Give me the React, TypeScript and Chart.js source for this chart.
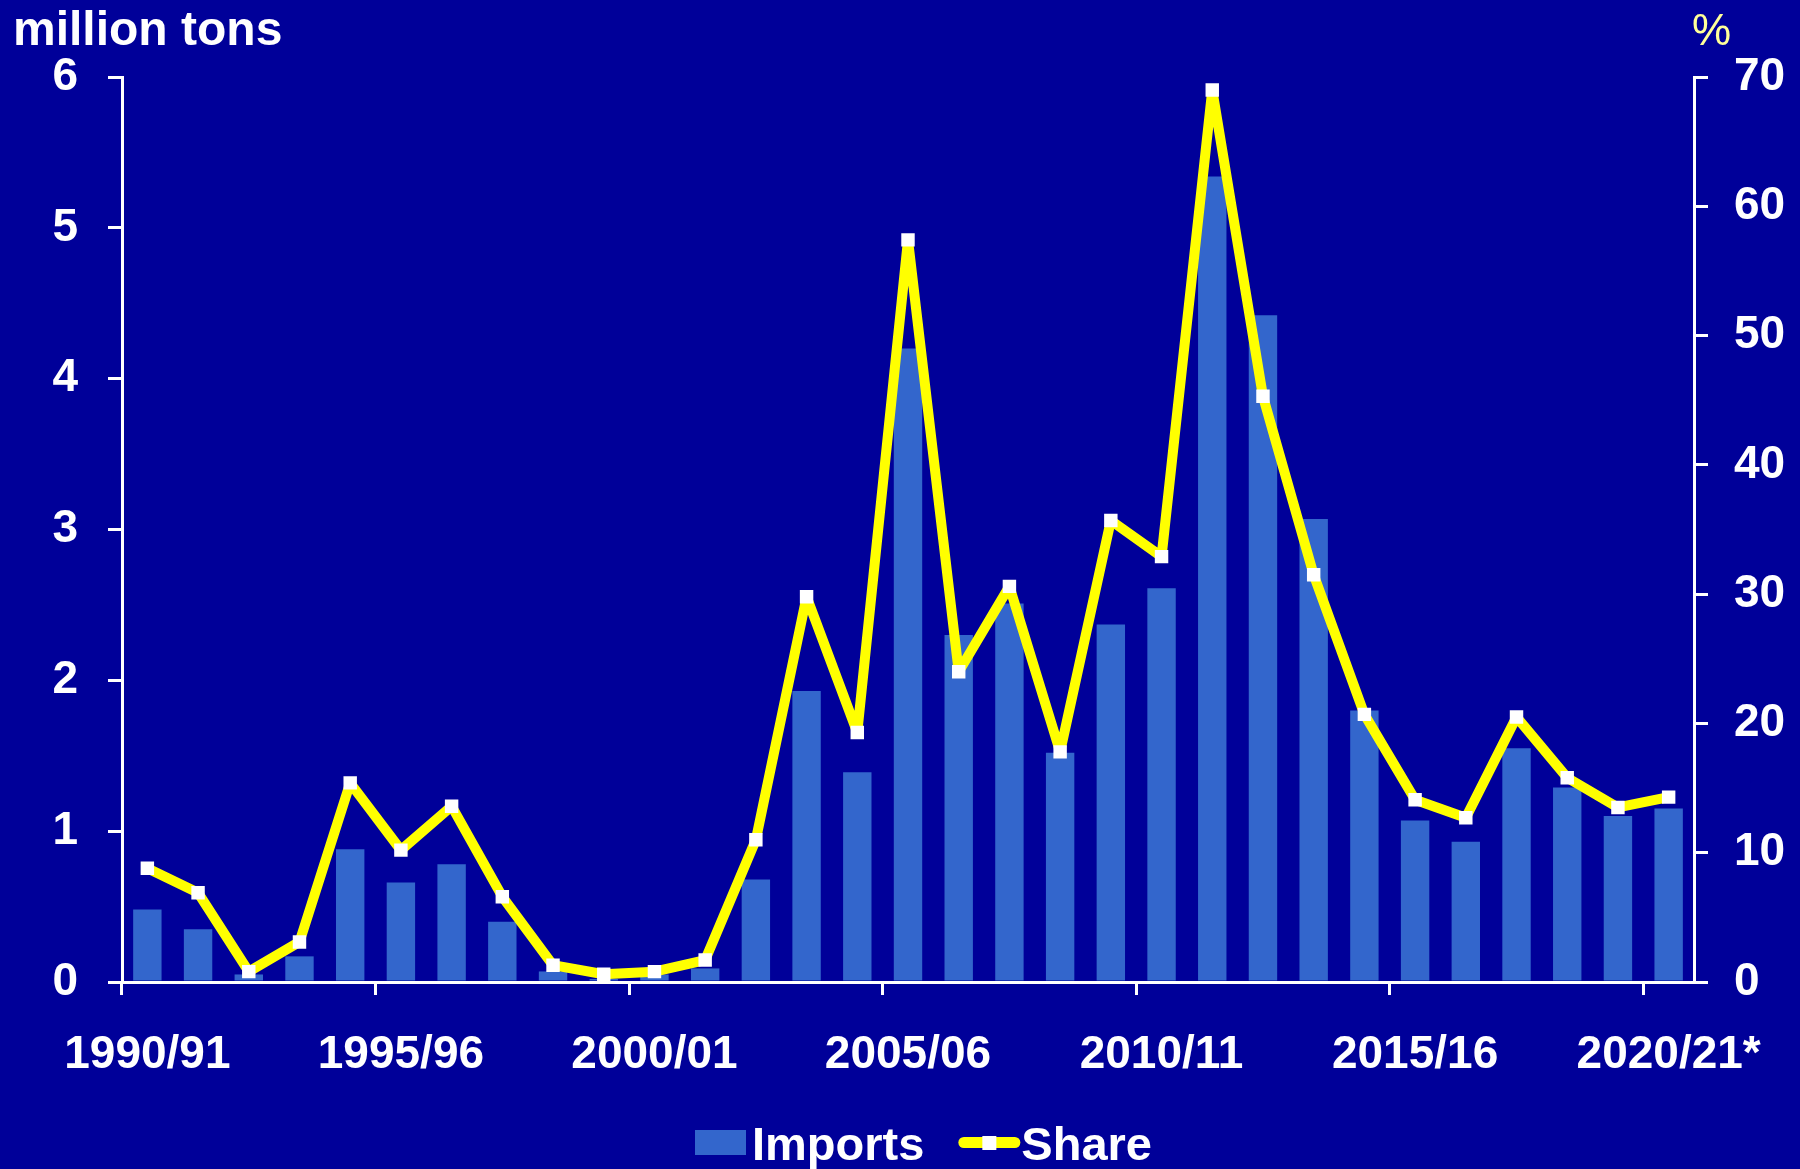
import { useEffect, useRef } from "react";
import { Chart, registerables } from "chart.js";

Chart.register(...registerables);

const categories = [
  "1990/91", "1991/92", "1992/93", "1993/94", "1994/95",
  "1995/96", "1996/97", "1997/98", "1998/99", "1999/00",
  "2000/01", "2001/02", "2002/03", "2003/04", "2004/05",
  "2005/06", "2006/07", "2007/08", "2008/09", "2009/10",
  "2010/11", "2011/12", "2012/13", "2013/14", "2014/15",
  "2015/16", "2016/17", "2017/18", "2018/19", "2019/20",
  "2020/21*",
];

const tickLabels = ["1990/91", "1995/96", "2000/01", "2005/06", "2010/11", "2015/16", "2020/21*"];

// Imports, million tons (left axis)
const imports = [
  0.48, 0.35, 0.05, 0.17, 0.88,
  0.66, 0.78, 0.40, 0.07, 0.02,
  0.05, 0.09, 0.68, 1.93, 1.39,
  4.20, 2.30, 2.51, 1.52, 2.37,
  2.61, 5.34, 4.42, 3.07, 1.80,
  1.07, 0.93, 1.55, 1.29, 1.10,
  1.15,
];

// Share, % (right axis)
const share = [
  8.8, 6.9, 0.8, 3.1, 15.4,
  10.2, 13.6, 6.6, 1.3, 0.6,
  0.8, 1.7, 11.0, 29.8, 19.3,
  57.4, 24.0, 30.6, 17.8, 35.7,
  32.9, 69.0, 45.3, 31.5, 20.7,
  14.1, 12.7, 20.5, 15.8, 13.5,
  14.3,
];

const leftRange = [0, 6];
const rightRange = [0, 70];

const FONT = '"Liberation Sans", Arial, Helvetica, sans-serif';
const BG = "#000099";
const BAR = "#3366CC";
const LINE = "#FFFF00";
const WHITE = "#FFFFFF";

const overlayPlugin = {
  id: "overlay",
  afterDraw(chart: any) {
    const ctx = chart.ctx as CanvasRenderingContext2D;
    ctx.save();
    ctx.textBaseline = "alphabetic";
    ctx.textAlign = "left";

    // axis titles
    ctx.fillStyle = WHITE;
    ctx.font = `bold 48px ${FONT}`;
    ctx.fillText("million tons", 13, 45);
    ctx.fillStyle = "#FFFF99";
    ctx.font = `normal 44px ${FONT}`;
    ctx.fillText("%", 1692, 45);

    // legend
    const bars = chart.data.datasets[1];
    const line = chart.data.datasets[0];
    let x = 695;
    ctx.fillStyle = bars.backgroundColor;
    ctx.fillRect(x, 1130, 51, 25);
    x += 51 + 6;
    ctx.fillStyle = WHITE;
    ctx.font = `bold 47px ${FONT}`;
    ctx.fillText(bars.label, x, 1160);
    x += ctx.measureText(bars.label).width + 34;

    ctx.strokeStyle = line.borderColor;
    ctx.lineWidth = 11;
    ctx.lineCap = "round";
    ctx.beginPath();
    ctx.moveTo(x + 5.5, 1142.5);
    ctx.lineTo(x + 56.5, 1142.5);
    ctx.stroke();
    ctx.fillStyle = line.pointBackgroundColor;
    ctx.fillRect(x + 24, 1136, 14, 14);
    x += 63;
    ctx.fillStyle = WHITE;
    ctx.fillText(line.label, x, 1160);
    ctx.restore();
  },
};

export default function App() {
  const ref = useRef<HTMLCanvasElement>(null);

  useEffect(() => {
    document.body.style.margin = "0";
    const canvas = ref.current;
    if (!canvas) return;
    const chart = new Chart(canvas, {
      type: "bar",
      data: {
        labels: categories,
        datasets: [
          {
            type: "line",
            label: "Share",
            data: share,
            yAxisID: "y1",
            borderColor: LINE,
            backgroundColor: LINE,
            borderWidth: 10,
            borderJoinStyle: "bevel",
            tension: 0,
            pointStyle: "rect",
            pointRadius: 9.5,
            pointHoverRadius: 9.5,
            pointBackgroundColor: WHITE,
            pointBorderColor: WHITE,
            pointBorderWidth: 0,
            order: 0,
          } as any,
          {
            type: "bar",
            label: "Imports",
            data: imports,
            yAxisID: "y",
            backgroundColor: BAR,
            borderWidth: 0,
            barPercentage: 0.56,
            categoryPercentage: 1,
            order: 1,
          } as any,
        ],
      },
      options: {
        responsive: false,
        animation: false,
        layout: { padding: { top: 77, left: 0, right: 0, bottom: 0 } },
        plugins: {
          legend: { display: false },
          tooltip: { enabled: false },
          title: { display: false },
        },
        scales: {
          x: {
            type: "category",
            offset: true,
            grid: {
              offset: true,
              drawOnChartArea: false,
              drawTicks: true,
              tickLength: 13,
              lineWidth: 3,
              color: (c: any) => (c.index % 5 === 0 ? WHITE : "rgba(0,0,0,0)"),
            },
            border: { display: true, color: WHITE, width: 3 },
            ticks: {
              autoSkip: false,
              maxRotation: 0,
              minRotation: 0,
              padding: 33,
              color: WHITE,
              font: { family: FONT, size: 46, weight: "bold" },
              callback: (_v: any, i: number) =>
                tickLabels.includes(categories[i]) ? categories[i] : "",
            },
            afterFit: (s: any) => {
              s.height = 187;
            },
          },
          y: {
            position: "left",
            min: leftRange[0],
            max: leftRange[1],
            grid: {
              drawOnChartArea: false,
              drawTicks: true,
              tickLength: 14,
              lineWidth: 3,
              color: WHITE,
            },
            border: { display: true, color: WHITE, width: 3 },
            ticks: {
              stepSize: 1,
              padding: 30,
              color: WHITE,
              font: { family: FONT, size: 46, weight: "bold" },
            },
            afterFit: (s: any) => {
              s.width = 122;
            },
          },
          y1: {
            position: "right",
            min: rightRange[0],
            max: rightRange[1],
            grid: {
              drawOnChartArea: false,
              drawTicks: true,
              tickLength: 14,
              lineWidth: 3,
              color: WHITE,
            },
            border: { display: true, color: WHITE, width: 3 },
            ticks: {
              stepSize: 10,
              padding: 26,
              color: WHITE,
              font: { family: FONT, size: 46, weight: "bold" },
            },
            afterFit: (s: any) => {
              s.width = 106;
            },
          },
        },
      } as any,
      plugins: [overlayPlugin],
    });
    return () => chart.destroy();
  }, []);

  return (
    <div
      style={{
        position: "fixed",
        left: 0,
        top: 0,
        width: 1800,
        height: 1169,
        background: BG,
        overflow: "hidden",
      }}
    >
      <canvas ref={ref} width={1800} height={1169} style={{ display: "block", width: 1800, height: 1169 }} />
    </div>
  );
}
